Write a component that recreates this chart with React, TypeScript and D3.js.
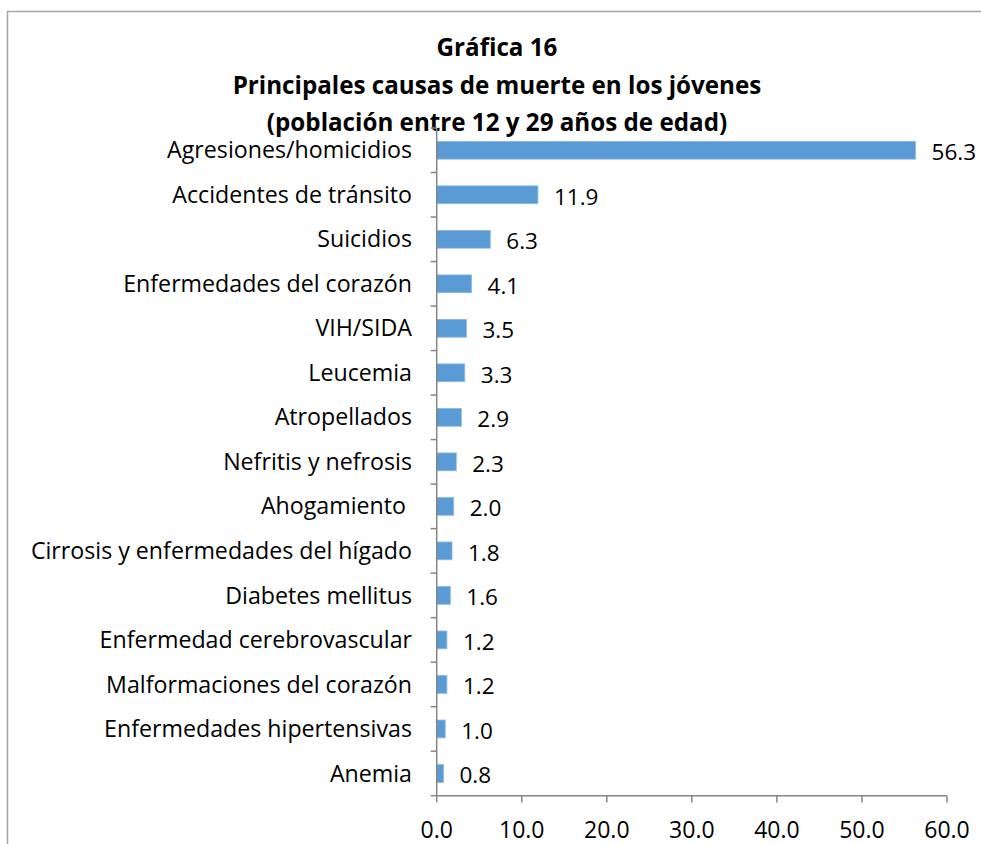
import React from "react";
import * as d3 from "d3";

const categories = [
  "Agresiones/homicidios",
  "Accidentes de tránsito",
  "Suicidios",
  "Enfermedades del corazón",
  "VIH/SIDA",
  "Leucemia",
  "Atropellados",
  "Nefritis y nefrosis",
  "Ahogamiento ",
  "Cirrosis y enfermedades del hígado",
  "Diabetes mellitus",
  "Enfermedad cerebrovascular",
  "Malformaciones del corazón",
  "Enfermedades hipertensivas",
  "Anemia",
];
const values = [56.3, 11.9, 6.3, 4.1, 3.5, 3.3, 2.9, 2.3, 2.0, 1.8, 1.6, 1.2, 1.2, 1.0, 0.8];
const xTicks = [0, 10, 20, 30, 40, 50, 60];
const titleLines = [
  "Gráfica 16",
  "Principales causas de muerte en los jóvenes",
  "(población entre 12 y 29 años de edad)",
];

const W = 981;
const H = 844;
const FONT = "'Open Sans', sans-serif";

export default function App() {
  const x = d3.scaleLinear().domain([0, 60]).range([436.7, 947]);
  const y = d3
    .scaleBand<string>()
    .domain(categories)
    .range([128, 795.7])
    .paddingInner(0.6)
    .paddingOuter(0.3);
  const step = y.step();
  const bandTop = 128;
  const axisColor = "#868686";

  return (
    <svg
      width={W}
      height={H}
      style={{ position: "absolute", left: 0, top: 0, background: "#fff" }}
    >
      <rect x={0} y={0} width={W} height={H} fill="#fff" />
      <path d={`M7.5,${H} V11.5 H${W}`} fill="none" stroke="#a6a6a6" strokeWidth={1.5} />
      {titleLines.map((t, i) => (
        <text
          key={i}
          x={497}
          y={48 + i * 37.5}
          dy="0.35em"
          textAnchor="middle"
          fontFamily={FONT}
          fontWeight="bold"
          fontSize={24.2}
          fill="#000"
        >
          {t}
        </text>
      ))}
      {categories.map((c, i) => (
        <g key={c + i}>
          <rect
            x={x(0)}
            y={y(c)!}
            width={x(values[i]) - x(0)}
            height={y.bandwidth()}
            fill="#5b9bd5"
            stroke="#8db8e3"
            strokeWidth={0.8}
          />
          <text
            x={412}
            y={y(c)! + y.bandwidth() / 2}
            dy="0.35em"
            textAnchor="end"
            fontFamily={FONT}
            fontSize={23.2}
            fill="#000"
            style={{ whiteSpace: "pre" }}
          >
            {c}
          </text>
          <text
            x={x(values[i]) + 16}
            y={y(c)! + y.bandwidth() / 2 + 2}
            dy="0.35em"
            textAnchor="start"
            fontFamily={FONT}
            fontSize={22.5}
            fill="#000"
          >
            {d3.format(".1f")(values[i])}
          </text>
        </g>
      ))}
      {/* y axis */}
      <line x1={x(0)} x2={x(0)} y1={bandTop} y2={795.7} stroke={axisColor} strokeWidth={1.5} />
      {d3.range(categories.length + 1).map((i) => (
        <line
          key={i}
          x1={x(0) - 6}
          x2={x(0)}
          y1={bandTop + i * step}
          y2={bandTop + i * step}
          stroke={axisColor}
          strokeWidth={1.5}
        />
      ))}
      {/* x axis */}
      <line x1={x(0)} x2={x(60)} y1={795.7} y2={795.7} stroke={axisColor} strokeWidth={1.5} />
      {xTicks.map((t) => (
        <g key={t}>
          <line x1={x(t)} x2={x(t)} y1={795.7} y2={802.5} stroke={axisColor} strokeWidth={1.5} />
          <text
            x={x(t)}
            y={830}
            dy="0.35em"
            textAnchor="middle"
            fontFamily={FONT}
            fontSize={23}
            fill="#000"
          >
            {d3.format(".1f")(t)}
          </text>
        </g>
      ))}
    </svg>
  );
}
